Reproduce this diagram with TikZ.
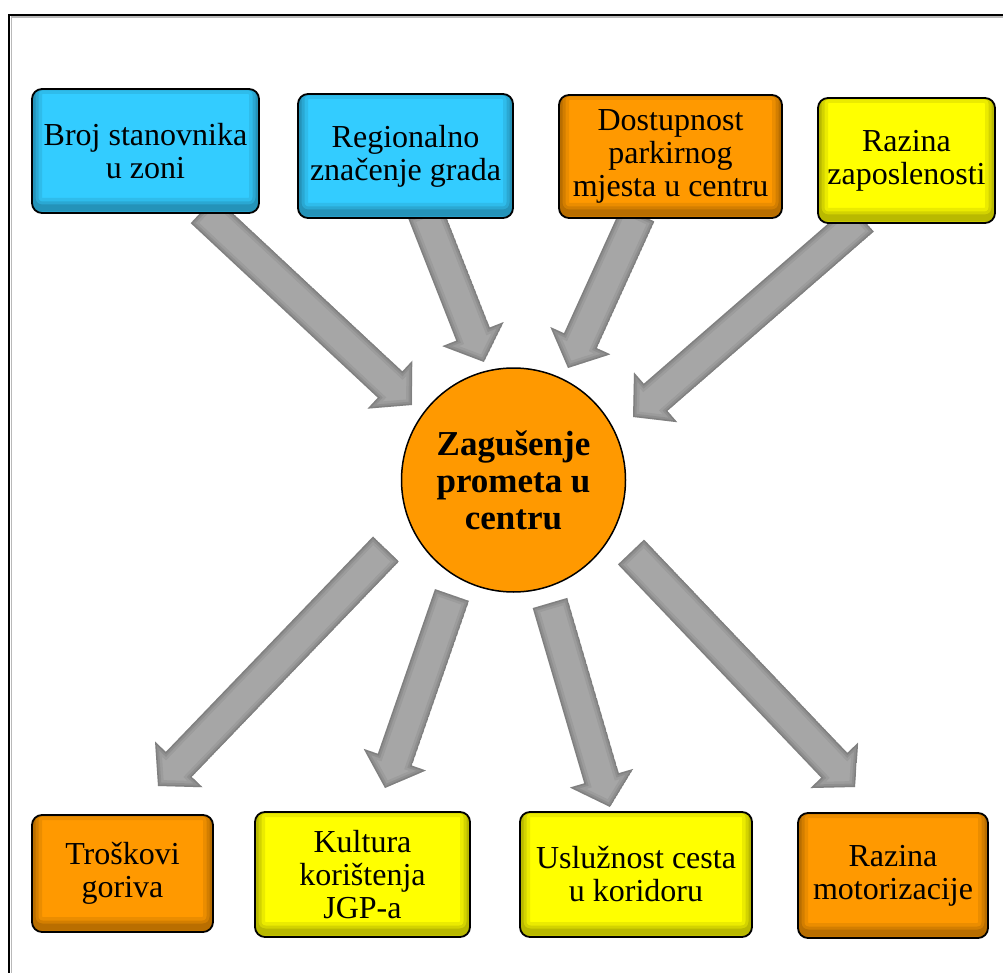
\documentclass[tikz,border=0pt]{standalone}
\usepackage{fontspec}
\setmainfont{Liberation Serif}
\usetikzlibrary{calc}
\definecolor{cblue}{HTML}{33CCFF}
\definecolor{corange}{HTML}{FF9900}
\definecolor{cyellow}{HTML}{FFFF00}
\definecolor{agray}{HTML}{A6A6A6}
\newcommand\boxfont{\fontsize{32}{33}\selectfont}
\newcommand\hubfont{\fontsize{35}{37}\selectfont\bfseries}
\newcommand\blockarrow[3]{%
  \coordinate (#1h) at ($(#3)!30pt!(#2)$);
  \coordinate (#1p1) at ($(#2)!18pt!90:(#3)$);
  \coordinate (#1p2) at ($(#1h)!18pt!90:(#3)$);
  \coordinate (#1p3) at ($(#1h)!33pt!90:(#3)$);
  \coordinate (#1p5) at ($(#1h)!33pt!-90:(#3)$);
  \coordinate (#1p6) at ($(#1h)!18pt!-90:(#3)$);
  \coordinate (#1p7) at ($(#2)!18pt!-90:(#3)$);
  \begin{scope}
    \clip (#1p1)--(#1p2)--(#1p3)--(#3)--(#1p5)--(#1p6)--(#1p7)--cycle;
    \fill[agray] (#1p1)--(#1p2)--(#1p3)--(#3)--(#1p5)--(#1p6)--(#1p7)--cycle;
    \foreach \w/\o in {12/0.06,7/0.08,3/0.1}{
      \draw[line width=\w pt, black, opacity=\o, line join=miter]
        (#1p1)--(#1p2)--(#1p3)--(#3)--(#1p5)--(#1p6)--(#1p7)--cycle;}
  \end{scope}
}
\tikzset{
  box/.style={draw=black, line width=1.8pt, rounded corners=10pt, align=center,
    inner sep=0pt, font=\boxfont,
    path picture={
      \foreach \w/\o in {20/0.08,13/0.1,7/0.12}{
        \draw[line width=\w pt, black, opacity=\o, rounded corners=10pt]
          ([yshift=5pt]path picture bounding box.south west) rectangle
          ([yshift=5pt]path picture bounding box.north east);}
    }},
  hub/.style={circle, draw=black, line width=1.5pt, fill=corange, align=center,
    inner sep=0pt, minimum size=224pt, font=\hubfont},
}
\begin{document}
\begin{tikzpicture}[x=1pt,y=-1pt]
\useasboundingbox (0,0) rectangle (1003,973);
\clip (0,0) rectangle (1003,973);
\fill[white] (0,0) rectangle (1003,973);
% frame
\draw[black, line width=2.2pt] (9,15) rectangle (1100,1100);
\draw[gray!55, line width=1.8pt] (11.5,17.3) rectangle (1100,1100);

% arrow end points
\coordinate (t1) at (203,210); \coordinate (e1) at (412,405);
\coordinate (t2) at (425,212); \coordinate (e2) at (484,362);
\coordinate (t3) at (638,214); \coordinate (e3) at (568,368);
\coordinate (t4) at (862,218); \coordinate (e4) at (633,417);
\coordinate (t5) at (386,549); \coordinate (e5) at (158,786);
\coordinate (t6) at (452,595); \coordinate (e6) at (385,788);
\coordinate (t7) at (550,603); \coordinate (e7) at (610,807);
\coordinate (t8) at (631,552); \coordinate (e8) at (855,787);

\blockarrow{a1}{t1}{e1}
\blockarrow{a2}{t2}{e2}
\blockarrow{a3}{t3}{e3}
\blockarrow{a4}{t4}{e4}
\blockarrow{a5}{t5}{e5}
\blockarrow{a6}{t6}{e6}
\blockarrow{a7}{t7}{e7}
\blockarrow{a8}{t8}{e8}

% top boxes
\node[box, fill=cblue, minimum width=227pt, minimum height=124pt] (b1) at (145.5,151) {Broj stanovnika\\u zoni};
\node[box, fill=cblue, minimum width=215pt, minimum height=124pt] (b2) at (405.5,156) {Regionalno\\značenje grada};
\node[box, fill=corange, minimum width=223pt, minimum height=123pt] (b3) at (670.5,156.5) {Dostupnost\\parkirnog\\mjesta u centru};
\node[box, fill=cyellow, minimum width=177pt, minimum height=125pt] (b4) at (906.5,160.5) {Razina\\zaposlenosti};

% hub
\node[hub] (hub) at (513.5,480) {Zagušenje\\prometa u\\centru};

% bottom boxes
\node[box, fill=corange, minimum width=181pt, minimum height=117pt] (b5) at (122.5,873.5) {Troškovi\\goriva};
\node[box, fill=cyellow, minimum width=215pt, minimum height=125pt] (b6) at (362.5,874.5) {Kultura\\korištenja\\JGP-a};
\node[box, fill=cyellow, minimum width=232pt, minimum height=125pt] (b7) at (636,874.5) {Uslužnost cesta\\u koridoru};
\node[box, fill=corange, minimum width=190pt, minimum height=125pt] (b8) at (893,875.5) {Razina\\motorizacije};
\end{tikzpicture}
\end{document}
